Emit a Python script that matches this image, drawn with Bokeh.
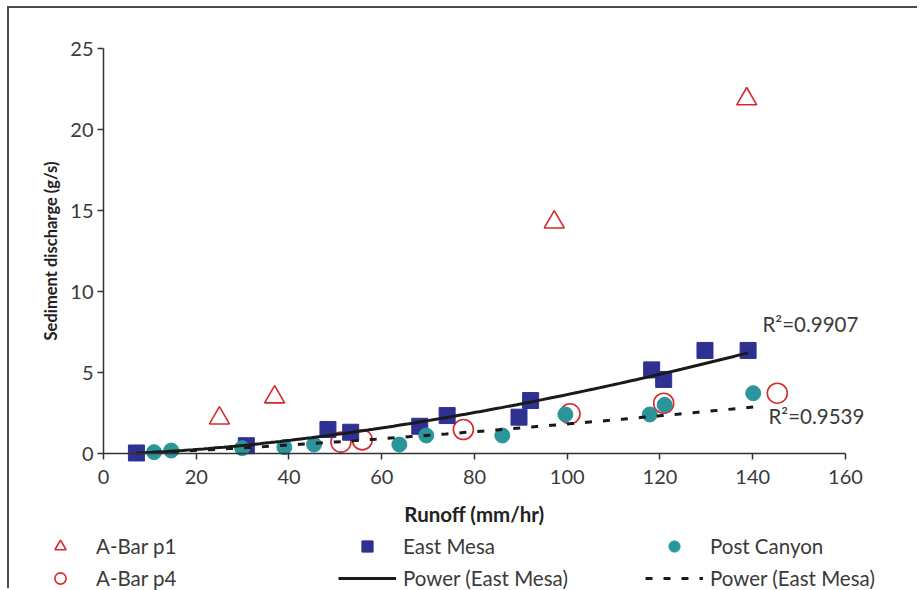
import numpy as np
from bokeh.plotting import figure
from bokeh.models import (Legend, LegendItem, Range1d, FixedTicker, Label,
                          LinearAxis)
from bokeh.embed import file_html
from bokeh.resources import INLINE

# ---- data ----
abar_p1_x = [25.0, 36.9, 97.2, 138.7]
abar_p1_y = [2.2, 3.5, 14.3, 21.9]

abar_p4_x = [51.2, 55.8, 77.6, 100.6, 120.8, 145.3]
abar_p4_y = [0.72, 0.86, 1.5, 2.47, 3.12, 3.74]

east_mesa_x = [7.1, 30.8, 48.4, 53.3, 68.2, 74.1, 89.6, 92.1, 118.2, 120.8, 129.7, 139.0]
east_mesa_y = [0.05, 0.5, 1.5, 1.33, 1.7, 2.36, 2.26, 3.29, 5.18, 4.59, 6.38, 6.38]

post_canyon_x = [10.9, 14.6, 29.9, 39.0, 45.4, 63.8, 69.6, 86.0, 99.6, 117.8, 121.0, 140.1]
post_canyon_y = [0.1, 0.2, 0.35, 0.41, 0.57, 0.57, 1.13, 1.13, 2.43, 2.43, 3.02, 3.74]

x_ticks = [0, 20, 40, 60, 80, 100, 120, 140, 160]
y_ticks = [0, 5, 10, 15, 20, 25]

r2_labels = ["R\u00b2=0.9907", "R\u00b2=0.9539"]
legend_labels = ["A-Bar p1", "A-Bar p4", "East Mesa", "Power (East Mesa)",
                 "Post Canyon", "Power (East Mesa)"]


def power_fit(xs, ys, n=120):
    lx, ly = np.log(xs), np.log(ys)
    b, ln_a = np.polyfit(lx, ly, 1)
    gx = np.linspace(min(xs), max(xs), n)
    return gx, np.exp(ln_a) * gx ** b


FONT = "Lato"
TXT = "#3a3a3a"
RED = "#d7282e"
BLUE = "#2e3192"
TEAL = "#2a969c"
LINE = "#1a1a1a"

# frame fills the whole canvas; axes are pinned at 0 so the legend
# below the chart stays inside the (unclipped) frame area
p = figure(width=910, height=582, output_backend="svg", toolbar_location=None,
           x_range=Range1d(-20.27, 175.96), y_range=Range1d(-8.44, 27.49),
           x_axis_type=None, y_axis_type=None,
           min_border_left=0, min_border_right=0, min_border_top=0,
           min_border_bottom=0)
p.title.visible = False
p.styles = {"margin-left": "7px", "margin-top": "6px",
            "border-top": "2px solid #4a4a4a", "border-left": "2px solid #4a4a4a"}
p.outline_line_color = None
p.grid.visible = False

xax = LinearAxis(axis_label="Runoff (mm/hr)", fixed_location=0, bounds=(0, 160),
                 ticker=FixedTicker(ticks=x_ticks))
yax = LinearAxis(axis_label="Sediment discharge (g/s)", fixed_location=0,
                 bounds=(0, 25), ticker=FixedTicker(ticks=y_ticks))
for ax in (xax, yax):
    ax.axis_line_color = "#333333"
    ax.axis_line_width = 1.5
    ax.major_tick_line_color = "#333333"
    ax.major_tick_line_width = 1.5
    ax.major_tick_in = 0
    ax.major_tick_out = 6
    ax.minor_tick_line_color = None
    ax.major_label_text_font = FONT
    ax.major_label_text_font_size = "20px"
    ax.major_label_text_color = TXT
    ax.axis_label_text_font = FONT
    ax.axis_label_text_font_style = "bold"
    ax.axis_label_text_color = "#222222"
xax.axis_label_text_font_size = "20.5px"
yax.axis_label_text_font_size = "16.5px"
xax.major_label_standoff = 10
xax.axis_label_standoff = 15
yax.major_label_standoff = 4
yax.axis_label_standoff = 6
p.add_layout(xax, "below")
p.add_layout(yax, "left")

r_p1 = p.scatter(abar_p1_x, abar_p1_y, marker="triangle", size=20,
                 fill_color=None, line_color=RED, line_width=1.6)
r_p4 = p.scatter(abar_p4_x, abar_p4_y, marker="circle", size=20,
                 fill_color=None, line_color=RED, line_width=1.6)
r_em = p.scatter(east_mesa_x, east_mesa_y, marker="square", size=16,
                 fill_color=BLUE, line_color=BLUE)
r_pc = p.scatter(post_canyon_x, post_canyon_y, marker="circle", size=15,
                 fill_color=TEAL, line_color=TEAL)

ex, ey = power_fit(east_mesa_x, east_mesa_y)
px_, py_ = power_fit(post_canyon_x, post_canyon_y)
r_l1 = p.line(ex, ey, line_color=LINE, line_width=3)
r_l2 = p.line(px_, py_, line_color=LINE, line_width=3, line_dash="7 11")

p.add_layout(Label(x=142.1, y=8.04, text=r2_labels[0], text_baseline="middle",
                   text_font=FONT, text_font_size="20.5px", text_color=TXT))
p.add_layout(Label(x=143.4, y=2.36, text=r2_labels[1], text_baseline="middle",
                   text_font=FONT, text_font_size="20.5px", text_color=TXT))

rends = [r_p1, r_p4, r_em, r_l1, r_pc, r_l2]
legend = Legend(items=[LegendItem(label=lab, renderers=[r])
                       for lab, r in zip(legend_labels, rends)],
                location=(22, -2), orientation="vertical", nrows=2,
                glyph_width=58, glyph_height=28, label_height=28, label_width=238,
                label_standoff=7, spacing=4, padding=0, margin=0,
                border_line_alpha=0, background_fill_alpha=0,
                label_text_font=FONT, label_text_font_size="20.5px",
                label_text_color=TXT)
p.add_layout(legend, "center")

open("out.html", "w").write(file_html(p, INLINE))
